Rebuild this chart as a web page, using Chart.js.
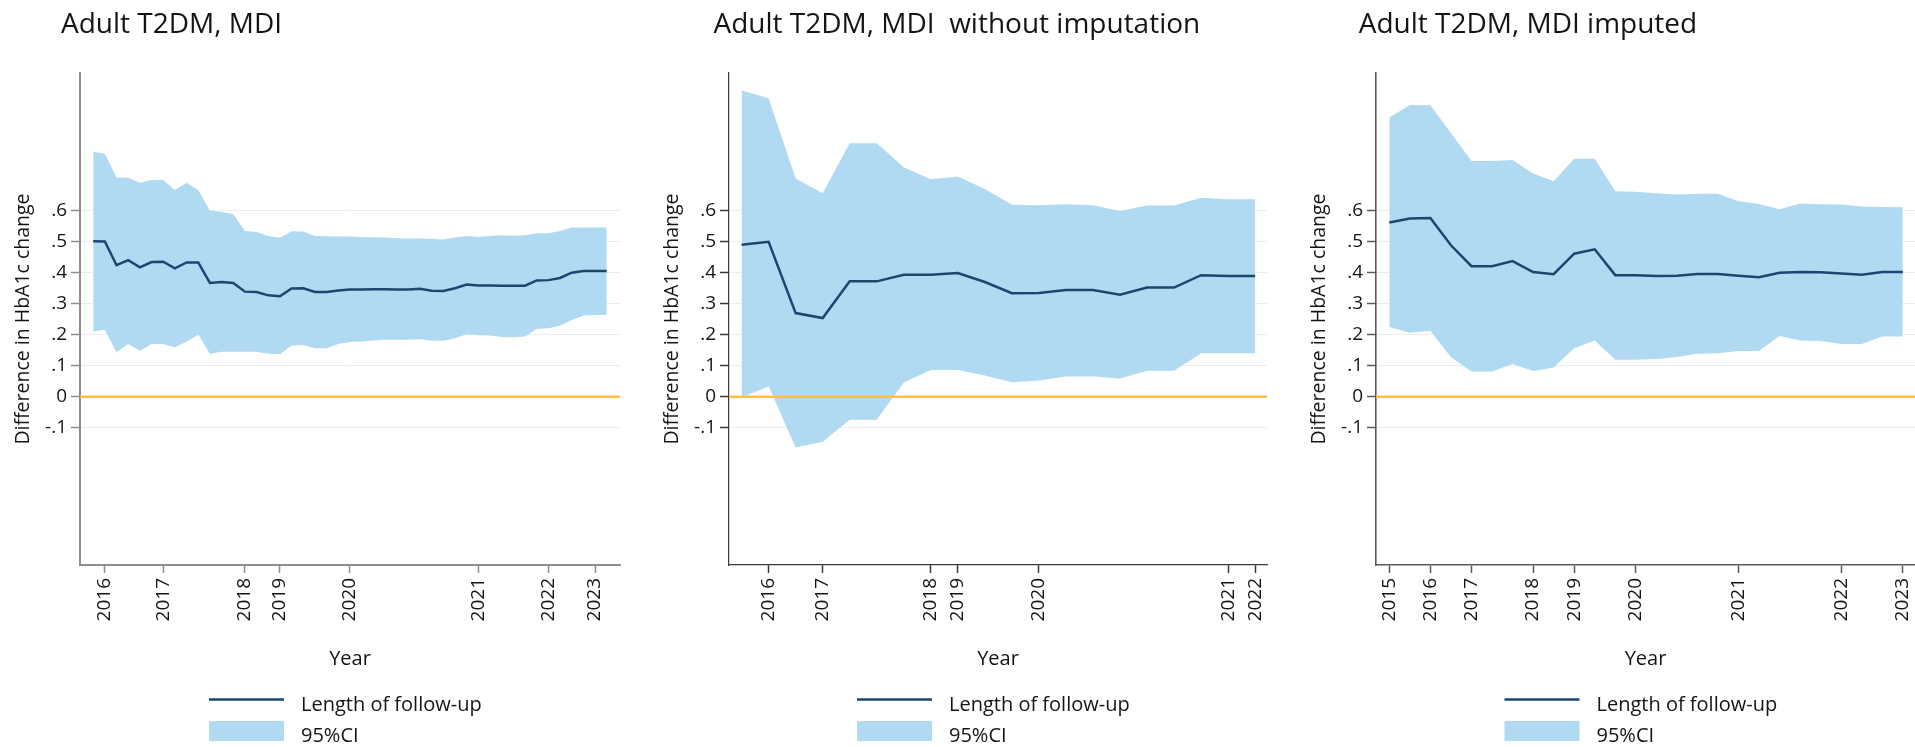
<!DOCTYPE html>
<html>
<head>
<meta charset="utf-8">
<script src="https://cdn.jsdelivr.net/npm/chart.js@4.4.1/dist/chart.umd.min.js"></script>
<style>
  body { margin: 0; width: 1915px; height: 747px; overflow: hidden; background: #fff; position: relative; }
  canvas { position: absolute; top: 0; }
</style>
</head>
<body>
<canvas id="p1" width="640" height="747" style="left:0px"></canvas>
<canvas id="p2" width="638" height="747" style="left:649px"></canvas>
<canvas id="p3" width="639" height="747" style="left:1296px"></canvas>
<script>
// y axis ticks (shared)
const yTickValues = [-0.1, 0, 0.1, 0.2, 0.3, 0.4, 0.5, 0.6];
const yTickLabels = ['-.1', '0', '.1', '.2', '.3', '.4', '.5', '.6'];

// panel 1 : Adult T2DM, MDI
const p1TickPos = [1, 6, 13, 16, 22, 33, 39, 43];
const p1TickLabels = ['2016', '2017', '2018', '2019', '2020', '2021', '2022', '2023'];
const p1Mean = [0.500, 0.499, 0.423, 0.439, 0.416, 0.433, 0.434, 0.413, 0.432, 0.432,
  0.366, 0.369, 0.366, 0.338, 0.337, 0.326, 0.323, 0.348, 0.349, 0.337,
  0.337, 0.342, 0.345, 0.345, 0.346, 0.346, 0.345, 0.345, 0.347, 0.341,
  0.340, 0.349, 0.361, 0.358, 0.358, 0.357, 0.357, 0.357, 0.374, 0.375,
  0.382, 0.399, 0.404, 0.404, 0.404];
const p1Upper = [0.788, 0.781, 0.705, 0.704, 0.688, 0.697, 0.697, 0.665, 0.688, 0.665,
  0.598, 0.595, 0.587, 0.533, 0.530, 0.517, 0.511, 0.532, 0.531, 0.517,
  0.516, 0.515, 0.515, 0.513, 0.513, 0.512, 0.510, 0.509, 0.509, 0.508,
  0.506, 0.512, 0.517, 0.514, 0.517, 0.519, 0.518, 0.519, 0.526, 0.526,
  0.533, 0.544, 0.544, 0.544, 0.544];
const p1Lower = [0.211, 0.215, 0.143, 0.170, 0.148, 0.170, 0.170, 0.159, 0.178, 0.199,
  0.138, 0.145, 0.145, 0.145, 0.145, 0.138, 0.137, 0.165, 0.166, 0.156,
  0.156, 0.170, 0.176, 0.178, 0.181, 0.183, 0.183, 0.183, 0.185, 0.180,
  0.180, 0.188, 0.201, 0.198, 0.197, 0.192, 0.191, 0.194, 0.219, 0.220,
  0.228, 0.247, 0.261, 0.263, 0.263];

// panel 2 : without imputation
const p2TickPos = [1, 3, 7, 8, 11, 18, 19];
const p2TickLabels = ['2016', '2017', '2018', '2019', '2020', '2021', '2022'];
const p2Mean = [0.489, 0.498, 0.269, 0.253, 0.371, 0.371, 0.392, 0.392, 0.398, 0.369,
  0.333, 0.334, 0.343, 0.343, 0.328, 0.351, 0.351, 0.391, 0.388, 0.388];
const p2Upper = [0.985, 0.960, 0.702, 0.654, 0.815, 0.815, 0.738, 0.699, 0.708, 0.668,
  0.617, 0.616, 0.619, 0.616, 0.597, 0.615, 0.615, 0.640, 0.635, 0.635];
const p2Lower = [-0.002, 0.033, -0.163, -0.145, -0.074, -0.074, 0.046, 0.086, 0.086, 0.068,
  0.047, 0.052, 0.065, 0.065, 0.059, 0.084, 0.084, 0.140, 0.140, 0.140];

// panel 3 : imputed
const p3TickPos = [0, 2, 4, 7, 9, 12, 17, 22, 25];
const p3TickLabels = ['2015', '2016', '2017', '2018', '2019', '2020', '2021', '2022', '2023'];
const p3Mean = [0.560, 0.573, 0.575, 0.487, 0.420, 0.420, 0.436, 0.401, 0.394, 0.460,
  0.474, 0.391, 0.391, 0.388, 0.389, 0.395, 0.395, 0.389, 0.384, 0.399,
  0.401, 0.400, 0.396, 0.392, 0.401, 0.401];
const p3Upper = [0.898, 0.938, 0.937, 0.848, 0.758, 0.758, 0.761, 0.718, 0.693, 0.765,
  0.765, 0.661, 0.659, 0.654, 0.650, 0.653, 0.653, 0.629, 0.620, 0.603,
  0.621, 0.619, 0.618, 0.612, 0.610, 0.609];
const p3Lower = [0.224, 0.206, 0.212, 0.127, 0.081, 0.081, 0.105, 0.083, 0.094, 0.156,
  0.181, 0.119, 0.119, 0.121, 0.128, 0.138, 0.140, 0.147, 0.147, 0.195,
  0.181, 0.179, 0.170, 0.170, 0.194, 0.194];

const NAVY = 'rgb(26, 71, 111)';
const BAND = 'rgb(176, 218, 242)';
const ZERO = 'rgb(255, 190, 70)';
const TEXT = '#141414';

Chart.defaults.font.family = "'Open Sans', sans-serif";
Chart.defaults.color = TEXT;

// panel title, drawn left of the y axis line
const panelTitle = {
  id: 'panelTitle',
  afterDraw(chart, args, opts) {
    const ctx = chart.ctx;
    ctx.save();
    ctx.font = "28px 'Open Sans'";
    ctx.fillStyle = TEXT;
    ctx.textBaseline = 'alphabetic';
    ctx.fillText(opts.text, chart.chartArea.left + opts.dx, 33);
    ctx.restore();
  }
};

// stacked legend under the x axis title
const keyLegend = {
  id: 'keyLegend',
  afterDraw(chart) {
    const {ctx, chartArea} = chart;
    const cx = (chartArea.left + chartArea.right) / 2;
    const mean = chart.data.datasets[0];
    const band = chart.data.datasets[3];
    ctx.save();
    ctx.font = "20px 'Open Sans'";
    ctx.textBaseline = 'alphabetic';
    ctx.strokeStyle = mean.borderColor;
    ctx.lineWidth = 2.5;
    ctx.beginPath();
    ctx.moveTo(cx - 141, 699.5);
    ctx.lineTo(cx - 66, 699.5);
    ctx.stroke();
    ctx.fillStyle = TEXT;
    ctx.fillText(mean.label, cx - 49, 711);
    ctx.fillStyle = band.backgroundColor;
    ctx.fillRect(cx - 141, 721, 75, 20);
    ctx.fillStyle = TEXT;
    ctx.fillText(band.label, cx - 49, 742);
    ctx.restore();
  }
};

function pts(arr) {
  return arr.map((v, i) => ({ x: i, y: v }));
}

function makePanel(id, p) {
  const config = {
    type: 'line',
    data: {
      datasets: [
        {
          label: 'Length of follow-up',
          data: pts(p.mean),
          borderColor: NAVY,
          borderWidth: 2.5,
          pointRadius: 0,
          tension: 0,
        },
        {
          label: 'zero',
          data: [{ x: p.xMin, y: 0 }, { x: p.xMax, y: 0 }],
          borderColor: ZERO,
          borderWidth: 2.5,
          pointRadius: 0,
        },
        {
          label: 'lower',
          data: pts(p.lower),
          borderWidth: 0,
          borderColor: 'rgba(0,0,0,0)',
          pointRadius: 0,
          fill: false,
        },
        {
          label: '95%CI',
          data: pts(p.upper),
          borderWidth: 0,
          borderColor: 'rgba(0,0,0,0)',
          backgroundColor: BAND,
          pointRadius: 0,
          fill: '-1',
        },
      ],
    },
    options: {
      responsive: false,
      animation: false,
      devicePixelRatio: 1,
      layout: { padding: { left: 0, right: 20, top: 73, bottom: 0 } },
      plugins: {
        legend: { display: false },
        tooltip: { enabled: false },
        panelTitle: { text: p.title, dx: p.titleDx },
      },
      scales: {
        x: {
          type: 'linear',
          min: p.xMin,
          max: p.xMax,
          afterBuildTicks: (s) => { s.ticks = p.tickPos.map((v) => ({ value: v })); },
          afterFit: (s) => { s.height = 182; },
          ticks: {
            autoSkip: false,
            minRotation: 90,
            maxRotation: 90,
            padding: 5,
            font: { size: 19 },
            callback: (v) => p.tickLabels[p.tickPos.indexOf(v)],
          },
          grid: {
            drawOnChartArea: false,
            drawTicks: true,
            tickLength: 8,
            tickColor: p.axisColor,
            tickWidth: 1.5,
          },
          border: { display: true, color: p.axisColor, width: p.axisWidth },
          title: {
            display: true,
            text: 'Year',
            font: { size: 20 },
            padding: { top: 0, bottom: 76 },
          },
        },
        y: {
          type: 'linear',
          min: -0.541,
          max: 1.041,
          afterBuildTicks: (s) => { s.ticks = yTickValues.map((v) => ({ value: v })); },
          afterFit: (s) => { s.width = 80; },
          ticks: {
            padding: 4,
            font: { size: 19 },
            callback: (v) => yTickLabels[yTickValues.indexOf(v)],
          },
          grid: {
            color: (c) => (c.tick && c.tick.value === 0 ? 'rgba(0,0,0,0)' : '#ececec'),
            lineWidth: 1,
            tickLength: 9,
            tickColor: p.axisColor,
            tickWidth: 1.5,
          },
          border: { display: true, color: p.axisColor, width: p.axisWidth },
          title: {
            display: true,
            text: 'Difference in HbA1c change',
            font: { size: 19.5 },
            padding: { top: 12, bottom: 0 },
          },
        },
      },
    },
    plugins: [panelTitle, keyLegend],
  };
  return new Chart(document.getElementById(id), config);
}

makePanel('p1', {
  title: 'Adult T2DM, MDI', titleDx: -19,
  mean: p1Mean, upper: p1Upper, lower: p1Lower,
  tickPos: p1TickPos, tickLabels: p1TickLabels,
  xMin: -1.131, xMax: 45.137,
  axisColor: '#8e8e8e', axisWidth: 2,
});
makePanel('p2', {
  title: 'Adult T2DM, MDI  without imputation', titleDx: -15.5,
  mean: p2Mean, upper: p2Upper, lower: p2Lower,
  tickPos: p2TickPos, tickLabels: p2TickLabels,
  xMin: -0.466, xMax: 19.438,
  axisColor: '#3a3a3a', axisWidth: 1.2,
});
makePanel('p3', {
  title: 'Adult T2DM, MDI imputed', titleDx: -17.3,
  mean: p3Mean, upper: p3Upper, lower: p3Lower,
  tickPos: p3TickPos, tickLabels: p3TickLabels,
  xMin: -0.648, xMax: 25.594,
  axisColor: '#5a5a5a', axisWidth: 1.6,
});
</script>
</body>
</html>
